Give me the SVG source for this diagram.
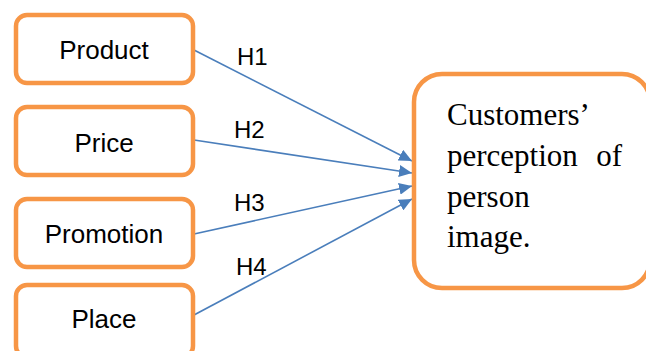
<svg xmlns="http://www.w3.org/2000/svg" width="646" height="351" viewBox="0 0 646 351">
<style>
.box{fill:#fff;stroke:#F79646;stroke-width:4.5}
.lbl{font-family:"Liberation Sans",Arial,sans-serif;font-size:26px;fill:#000;text-anchor:middle}
.h{font-family:"Liberation Sans",Arial,sans-serif;font-size:24px;fill:#000}
.big{font-family:"Liberation Serif","Times New Roman",serif;font-size:31px;fill:#000}
.con{stroke:#4A7EBB;stroke-width:1.6;fill:none;marker-end:url(#ah)}
</style>
<defs>
<marker id="ah" markerUnits="userSpaceOnUse" markerWidth="14" markerHeight="12" refX="13" refY="6" orient="auto">
<path d="M0,0 L13,6 L0,12 Z" fill="#4A7EBB"/>
</marker>
</defs>
<rect width="646" height="351" fill="#fff"/>
<g id="connectors">
<line class="con" x1="194" y1="50" x2="412" y2="161"/>
<line class="con" x1="194" y1="140" x2="412" y2="173"/>
<line class="con" x1="194" y1="234" x2="412" y2="186"/>
<line class="con" x1="194" y1="315" x2="412" y2="199"/>
<text class="h" x="237" y="65">H1</text>
<text class="h" x="234" y="138">H2</text>
<text class="h" x="234" y="211">H3</text>
<text class="h" x="236" y="275">H4</text>
</g>
<g id="product"><rect class="box" x="16" y="15" width="177" height="68" rx="11"/><text class="lbl" x="104" y="59">Product</text></g>
<g id="price"><rect class="box" x="16" y="107" width="177" height="68" rx="11"/><text class="lbl" x="104" y="152">Price</text></g>
<g id="promotion"><rect class="box" x="16" y="199" width="177" height="68" rx="11"/><text class="lbl" x="104" y="243">Promotion</text></g>
<g id="place"><rect class="box" x="16" y="285" width="177" height="72" rx="11"/><text class="lbl" x="104" y="328">Place</text></g>
<g id="customers">
<rect class="box" x="414" y="74" width="236" height="214" rx="28"/>
<text class="big" x="447" y="125">Customers’</text>
<text class="big" x="447" y="166">perception</text>
<text class="big" x="622" y="166" text-anchor="end">of</text>
<text class="big" x="447" y="207">person</text>
<text class="big" x="447" y="247">image.</text>
</g>
</svg>
